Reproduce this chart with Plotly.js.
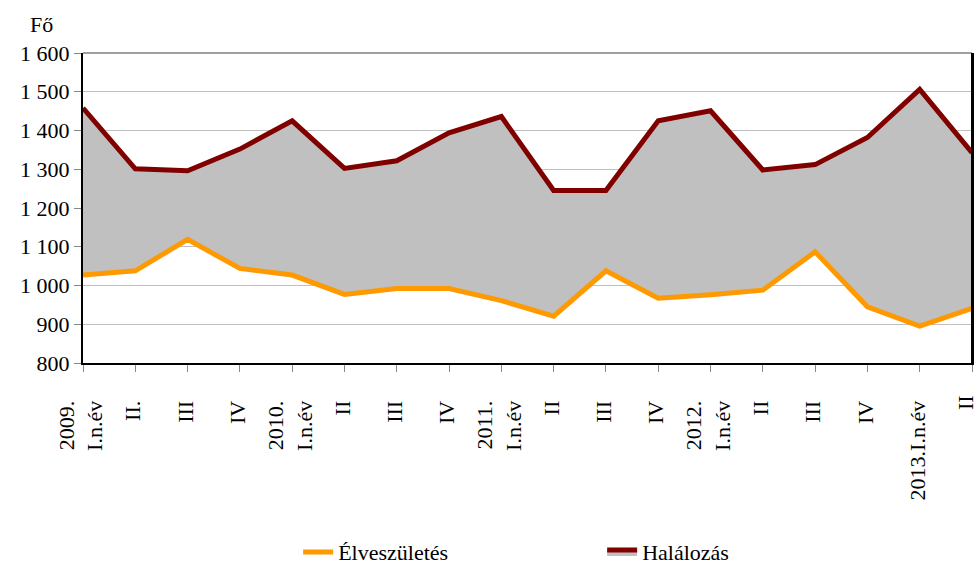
<!DOCTYPE html>
<html>
<head>
<meta charset="utf-8">
<script src="https://cdn.plot.ly/plotly-3.0.1.min.js"></script>
<style>html,body{margin:0;padding:0;background:#fff;overflow:hidden;}#chart{width:979px;height:567px;}</style>
</head>
<body>
<div id="chart"></div>
<script>
const periodLabels = ["2009.<br>I.n.év","II.","III","IV","2010.<br>I.n.év","II","III","IV","2011.<br>I.n.év","II","III","IV","2012.<br>I.n.év","II","III","IV","2013.I.n.év","II"];
const births = [1027,1038,1119,1044,1027,977,992,992,961,921,1038,967,976,988,1087,945,895,941];
const deaths = [1458,1301,1296,1352,1425,1302,1322,1394,1436,1245,1245,1425,1451,1298,1312,1382,1506,1343];
const yTickVals = [800,900,1000,1100,1200,1300,1400,1500,1600];
const yTickText = ["800","900","1 000","1 100","1 200","1 300","1 400","1 500","1 600"];

const xIdx = periodLabels.map((_, i) => i);
const lastIdx = xIdx.length - 1;
const FONT = "Liberation Serif, Times New Roman, serif";

const traces = [
  {x: xIdx, y: births, type: "scatter", mode: "lines", name: "Élveszületés",
   line: {color: "#FF9900", width: 5}, hoverinfo: "skip"},
  {x: xIdx, y: deaths, type: "scatter", mode: "lines", name: "Halálozás",
   fill: "tonexty", fillcolor: "#C0C0C0",
   line: {color: "#800000", width: 5}, hoverinfo: "skip"},
  // helper trace so the overlay axis carrying the last period label is drawn
  {x: [lastIdx], y: [deaths[lastIdx]], xaxis: "x2", yaxis: "y", type: "scatter", mode: "lines",
   line: {color: "rgba(0,0,0,0)", width: 0}, showlegend: false, hoverinfo: "skip"}
];

const tickFont = {family: FONT, size: 22, color: "#000"};

const layout = {
  width: 979, height: 567,
  margin: {l: 83, r: 7, t: 53, b: 204, autoexpand: false},
  paper_bgcolor: "#fff", plot_bgcolor: "#fff",
  font: {family: FONT, size: 22, color: "#000"},
  showlegend: true,
  legend: {orientation: "h", traceorder: "normal", x: 0.242, xanchor: "left", y: -0.61, yanchor: "middle",
           entrywidth: 259, font: {family: FONT, size: 22, color: "#000"}},
  xaxis: {range: [0, lastIdx], tickvals: xIdx,
          ticktext: periodLabels.map((t, i) => i === lastIdx ? "" : t), tickangle: -90,
          showgrid: false, zeroline: false, showline: true, linecolor: "#000", linewidth: 2,
          ticks: "outside", ticklen: 7, tickcolor: "#888", tickwidth: 1,
          ticklabelstandoff: 20, ticklabelshift: -2, ticklabeloverflow: "allow",
          automargin: false, fixedrange: true, tickfont: tickFont},
  xaxis2: {overlaying: "x", anchor: "y", side: "bottom", range: [0, lastIdx],
           tickvals: [lastIdx], ticktext: [periodLabels[lastIdx]], tickangle: -90,
           showgrid: false, zeroline: false, showline: false, ticks: "",
           ticklabelstandoff: 27, ticklabelshift: -6, ticklabeloverflow: "allow",
           automargin: false, fixedrange: true, tickfont: tickFont},
  yaxis: {range: [800, 1600], tickvals: yTickVals, ticktext: yTickText,
          showgrid: true, gridcolor: "#C0C0C0", gridwidth: 1, zeroline: false,
          showline: true, linecolor: "#000", linewidth: 2, mirror: true,
          ticks: "outside", ticklen: 7, tickcolor: "#888", tickwidth: 1,
          automargin: false, fixedrange: true, tickfont: tickFont},
  shapes: [{type: "line", xref: "paper", yref: "paper", x0: 0, x1: 1, y0: 1, y1: 1,
            line: {color: "#404040", width: 1}},
           {type: "line", xref: "paper", yref: "paper", x0: 1, x1: 1, y0: 0, y1: 1,
            line: {color: "#000", width: 2}}],
  annotations: [{text: "Fő", xref: "paper", yref: "paper", x: -0.047, y: 1.045,
                 xanchor: "center", yanchor: "bottom", showarrow: false,
                 font: {family: FONT, size: 22, color: "#000"}}]
};

Plotly.newPlot("chart", traces, layout, {staticPlot: true, displayModeBar: false});
</script>
</body>
</html>
